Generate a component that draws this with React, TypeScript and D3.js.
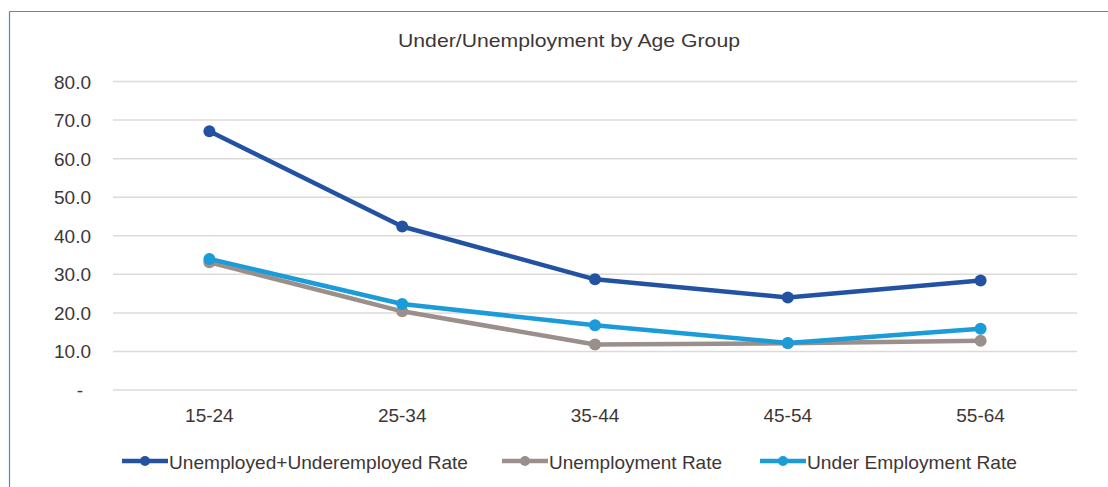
import React from "react";
import * as d3 from "d3";

const categories = ["15-24", "25-34", "35-44", "45-54", "55-64"];
const combinedRate = [67.1, 42.4, 28.7, 24.0, 28.4];
const unemploymentRate = [33.1, 20.4, 11.8, 12.1, 12.8];
const underEmploymentRate = [34.0, 22.3, 16.8, 12.2, 15.9];
const yTicks = [0, 10, 20, 30, 40, 50, 60, 70, 80];
const seriesNames = ["Unemployed+Underemployed Rate", "Unemployment Rate", "Under Employment Rate"];
const seriesColors = ["#2352a3", "#9a8f8b", "#1b9bd8"];

const W = 1108;
const H = 487;
const left = 113;
const right = 1077;
const top = 81.5;
const bottom = 390;

export default function App() {
  const x = d3.scaleBand<string>().domain(categories).range([left, right]);
  const y = d3.scaleLinear().domain([0, 80]).range([bottom, top]);
  const line = d3
    .line<number>()
    .x((_, i) => (x(categories[i]) as number) + x.bandwidth() / 2)
    .y((d) => y(d));
  const series = [combinedRate, unemploymentRate, underEmploymentRate];
  const drawOrder = [1, 2, 0];
  const textColor = "#3e3636";
  const font = "'Liberation Sans', Arial, sans-serif";
  const legendItems = [
    { lx: 122, tx: 169, tl: 299 },
    { lx: 502, tx: 549, tl: 173 },
    { lx: 760, tx: 807, tl: 210 },
  ];
  const ly = 461;
  return (
    <svg
      width={W}
      height={H}
      style={{ position: "absolute", left: 0, top: 0, background: "#fff" }}
      fontFamily={font}
    >
      <rect x={0} y={0} width={W} height={H} fill="#fff" />
      <line x1={9.5} y1={11.5} x2={W} y2={11.5} stroke="#4a8ad0" strokeWidth={1.2} />
      <line x1={9.5} y1={11.5} x2={9.5} y2={H} stroke="#4a8ad0" strokeWidth={1.2} />
      <text
        x={398}
        y={47}
        fontSize={19}
        fill={textColor}
        textLength={342}
        lengthAdjust="spacingAndGlyphs"
      >
        Under/Unemployment by Age Group
      </text>
      {yTicks.map((t) => (
        <g key={t}>
          <line x1={left} x2={right} y1={y(t)} y2={y(t)} stroke="#dedad8" strokeWidth={1.5} />
          <text
            x={t === 0 ? 83 : 91}
            y={y(t) + 7}
            textAnchor="end"
            fontSize={19}
            fill={textColor}
          >
            {t === 0 ? "-" : t.toFixed(1)}
          </text>
        </g>
      ))}
      {categories.map((c) => (
        <text
          key={c}
          x={(x(c) as number) + x.bandwidth() / 2}
          y={422}
          textAnchor="middle"
          fontSize={19}
          fill={textColor}
        >
          {c}
        </text>
      ))}
      {drawOrder.map((si) => (
        <g key={si}>
          <path
            d={line(series[si]) || ""}
            fill="none"
            stroke={seriesColors[si]}
            strokeWidth={4.5}
            strokeLinejoin="round"
          />
          {series[si].map((v, i) => (
            <circle
              key={i}
              cx={(x(categories[i]) as number) + x.bandwidth() / 2}
              cy={y(v)}
              r={6}
              fill={seriesColors[si]}
            />
          ))}
        </g>
      ))}
      {seriesNames.map((n, i) => {
        const it = legendItems[i];
        return (
          <g key={n}>
            <line
              x1={it.lx}
              x2={it.lx + 46}
              y1={ly}
              y2={ly}
              stroke={seriesColors[i]}
              strokeWidth={4.5}
            />
            <circle cx={it.lx + 23} cy={ly} r={5} fill={seriesColors[i]} />
            <text
              x={it.tx}
              y={ly + 7.5}
              fontSize={19}
              fill={textColor}
              textLength={it.tl}
              lengthAdjust="spacingAndGlyphs"
            >
              {n}
            </text>
          </g>
        );
      })}
    </svg>
  );
}
